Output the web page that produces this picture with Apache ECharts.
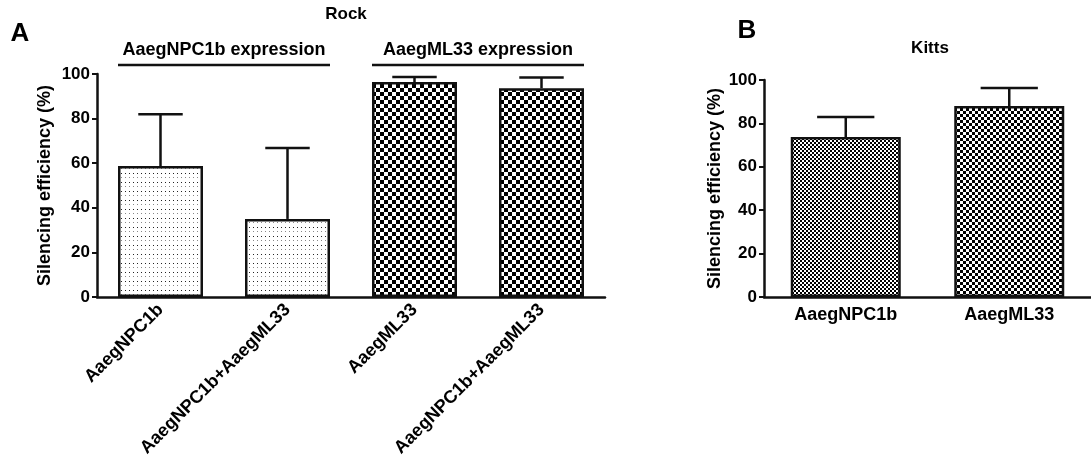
<!DOCTYPE html>
<html>
<head>
<meta charset="utf-8">
<script src="https://cdn.jsdelivr.net/npm/echarts@6/dist/echarts.min.js"></script>
<style>html,body{margin:0;background:#fff}#chart{width:1091px;height:469px}</style>
</head>
<body>
<div id="chart"></div>
<script>
'use strict';

// panel A (Rock)
var rockCats = ['AaegNPC1b', 'AaegNPC1b+AaegML33', 'AaegML33', 'AaegNPC1b+AaegML33'];
var rockMean = [58.7, 35.0, 96.4, 93.6];
var rockErr = [23.3, 31.8, 2.2, 4.8];
var rockGroups = [['AaegNPC1b expression', 0, 1], ['AaegML33 expression', 2, 3]];
// panel B (Kitts)
var kittsCats = ['AaegNPC1b', 'AaegML33'];
var kittsMean = [73.7, 88.0];
var kittsErr = [9.2, 8.3];
var yTicks = [0, 20, 40, 60, 80, 100];

var FONT = '"Liberation Sans", Arial, sans-serif';

function makePattern(w, h, draw) {
   var c = document.createElement('canvas');
   c.width = w; c.height = h;
   var ctx = c.getContext('2d');
   ctx.fillStyle = '#fff';
   ctx.fillRect(0, 0, w, h);
   draw(ctx);
   return { image: c, repeat: 'repeat' };
}
function checker(n) {
   return makePattern(2 * n, 2 * n, function (ctx) {
      ctx.fillStyle = '#000';
      ctx.fillRect(0, 0, n, n);
      ctx.fillRect(n, n, n, n);
   });
}
var dots = makePattern(4, 9, function (ctx) {
   ctx.fillStyle = '#222'; ctx.fillRect(1, 2, 1, 1);
   ctx.fillStyle = '#888'; ctx.fillRect(1, 6, 1, 1);
});

var rockFills = [dots, dots, checker(4), checker(4)];
var kittsFills = [checker(2), checker(3)];

function barData(vals, fills) {
   return vals.map(function (v, i) {
      return { value: v, itemStyle: { color: fills[i] } };
   });
}

function errorSeries(idx, means, errs) {
   return {
      type: 'custom', xAxisIndex: idx, yAxisIndex: idx, z: 3,
      data: means.map(function (m, i) { return [i, m, m + errs[i]]; }),
      renderItem: function (params, api) {
         var base = api.coord([api.value(0), api.value(1)]);
         var top = api.coord([api.value(0), api.value(2)]);
         var half = api.size([1, 0])[0] * 0.35 / 2;
         var st = { stroke: '#111', lineWidth: 2.5 };
         return { type: 'group', children: [
            { type: 'line', shape: { x1: base[0], y1: base[1], x2: top[0], y2: top[1] }, style: st },
            { type: 'line', shape: { x1: top[0] - half, y1: top[1], x2: top[0] + half, y2: top[1] }, style: st }
         ] };
      }
   };
}

function yAxis(idx, gap) {
   return {
      type: 'value', gridIndex: idx, min: 0, max: 100, interval: 20,
      name: 'Silencing efficiency (%)', nameLocation: 'middle', nameGap: gap,
      nameTextStyle: { fontFamily: FONT, fontWeight: 'bold', fontSize: 18, color: '#000' },
      axisLine: { show: true, lineStyle: { color: '#111', width: 2.5 } },
      axisTick: { show: true, length: 5, lineStyle: { color: '#111', width: 2 } },
      axisLabel: { margin: 7, fontFamily: FONT, fontWeight: 'bold', fontSize: 17, color: '#000',
         formatter: function (v) { return yTicks.indexOf(v) >= 0 ? v : ''; } },
      splitLine: { show: false }
   };
}

function xAxis(idx, cats, rotate) {
   return {
      type: 'category', gridIndex: idx, data: cats,
      axisLine: { lineStyle: { color: '#111', width: 2.5 } },
      axisTick: { alignWithLabel: true, length: 5, lineStyle: { color: '#111', width: 2 } },
      axisLabel: { rotate: rotate, margin: rotate ? 10 : 9, interval: 0, fontFamily: FONT,
         fontWeight: 'bold', fontSize: 18, color: '#000' }
   };
}

var chart = echarts.init(document.getElementById('chart'));

var option = {
   animation: false,
   backgroundColor: '#fff',
   grid: [
      { left: 97, top: 74, width: 508, height: 223 },
      { left: 764, top: 80, width: 328, height: 217 }
   ],
   xAxis: [xAxis(0, rockCats, 45), xAxis(1, kittsCats, 0)],
   yAxis: [yAxis(0, 43), yAxis(1, 40)],
   graphic: [
      { type: 'text', x: 20, y: 34, style: { text: 'A', font: 'bold 26px ' + FONT, fill: '#000', align: 'center', verticalAlign: 'middle' } },
      { type: 'text', x: 346, y: 14, style: { text: 'Rock', font: 'bold 17px ' + FONT, fill: '#000', align: 'center', verticalAlign: 'middle' } },
      { type: 'text', x: 747, y: 31, style: { text: 'B', font: 'bold 26px ' + FONT, fill: '#000', align: 'center', verticalAlign: 'middle' } },
      { type: 'text', x: 930, y: 48, style: { text: 'Kitts', font: 'bold 17px ' + FONT, fill: '#000', align: 'center', verticalAlign: 'middle' } }
   ],
   series: [
      {
         type: 'bar', xAxisIndex: 0, yAxisIndex: 0, barWidth: 85,
         data: barData(rockMean, rockFills),
         itemStyle: { borderColor: '#111', borderWidth: 2.5 }
      },
      errorSeries(0, rockMean, rockErr),
      {
         type: 'bar', xAxisIndex: 1, yAxisIndex: 1, barWidth: 110,
         data: barData(kittsMean, kittsFills),
         itemStyle: { borderColor: '#111', borderWidth: 2.5 }
      },
      errorSeries(1, kittsMean, kittsErr),
      {
         // group brackets above panel A
         type: 'custom', xAxisIndex: 0, yAxisIndex: 0, clip: false, silent: true,
         data: rockGroups.map(function (g) { return [g[1], g[2]]; }),
         renderItem: function (params, api) {
            var a = api.coord([api.value(0), 100]);
            var b = api.coord([api.value(1), 100]);
            var half = 85 / 2;
            var y = a[1] - 9;
            return { type: 'group', children: [
               { type: 'line', shape: { x1: a[0] - half, y1: y, x2: b[0] + half, y2: y },
                 style: { stroke: '#111', lineWidth: 2.5 } },
               { type: 'text', x: (a[0] + b[0]) / 2, y: y - 15,
                 style: { text: rockGroups[params.dataIndex][0], font: 'bold 18px ' + FONT,
                    fill: '#000', align: 'center', verticalAlign: 'middle' } }
            ] };
         }
      }
   ]
};

chart.setOption(option);
</script>
</body>
</html>
